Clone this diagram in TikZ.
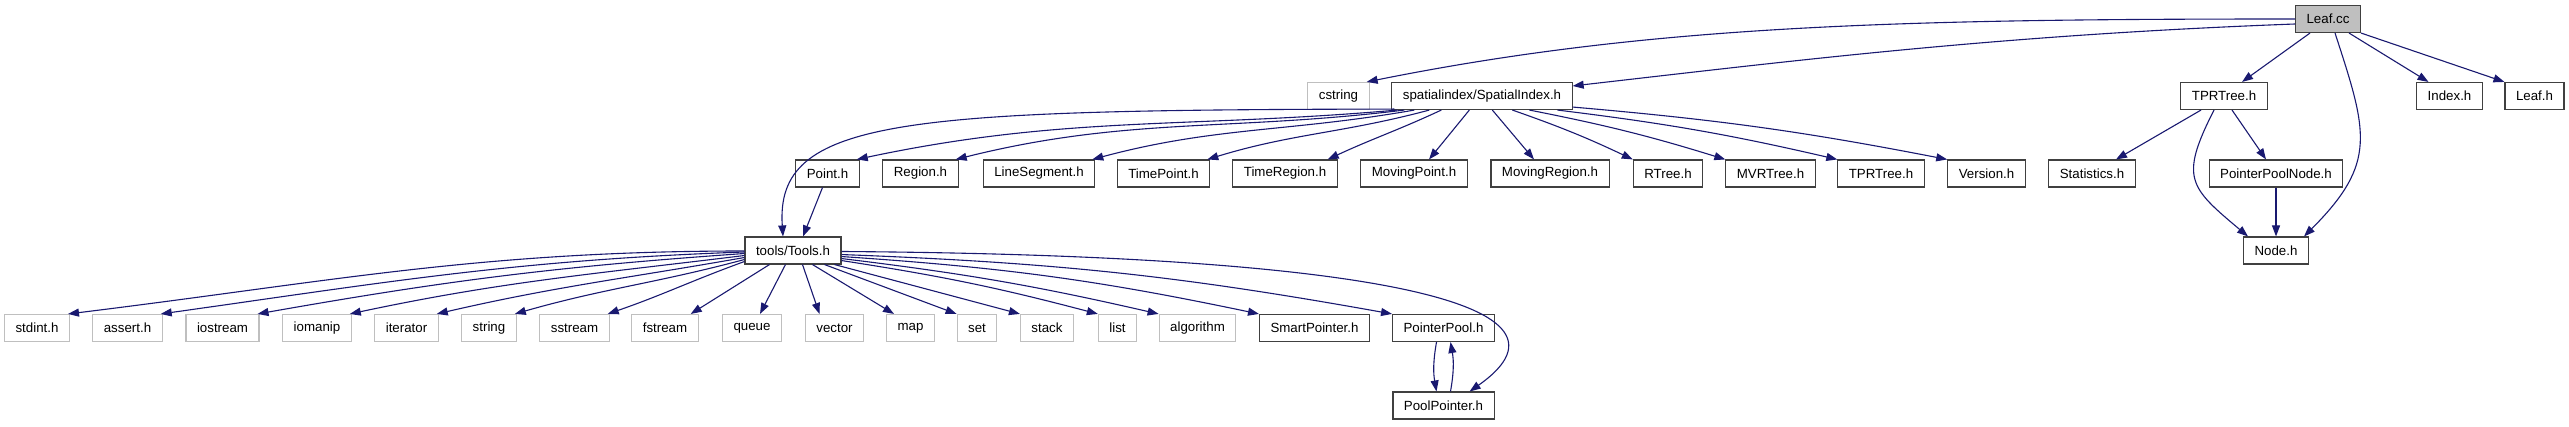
\documentclass[tikz,border=0pt]{standalone}
\usepackage{fontspec}
\setmainfont{Liberation Sans}
\usetikzlibrary{arrows.meta}
\definecolor{navy}{HTML}{191970}
\definecolor{sysgray}{HTML}{BFBFBF}
\definecolor{boxline}{HTML}{404040}
\tikzset{
  box/.style={draw=boxline, line width=1.1pt, fill=white, inner xsep=11pt, inner ysep=0pt,
    minimum height=27pt, font=\fontsize{13.3}{15}\selectfont},
  sysbox/.style={box, draw=sysgray},
  edge/.style={draw=navy, line width=1.1pt, -{Triangle[length=11pt,width=8pt]}}
}
\begin{document}
\begin{tikzpicture}[x=1pt,y=1pt]
\useasboundingbox (0,0) rectangle (2569,-427);
% row 1
\node[box, fill=sysgray] (leafcc) at (2328,-19) {Leaf.cc};
% row 2
\node[sysbox] (cstring) at (1338.5,-96) {cstring};
\node[box] (si) at (1482,-96) {spatialindex/SpatialIndex.h};
\node[box] (tprb) at (2224,-96) {TPRTree.h};
\node[box] (index) at (2449.5,-96) {Index.h};
\node[box] (leafh) at (2534.5,-96) {Leaf.h};
% row 3
\node[box] (point) at (827.5,-173.5) {Point.h};
\node[box] (region) at (920.5,-173.5) {Region.h};
\node[box] (lineseg) at (1039,-173.5) {LineSegment.h};
\node[box] (timepoint) at (1163.5,-173.5) {TimePoint.h};
\node[box] (timeregion) at (1285,-173.5) {TimeRegion.h};
\node[box] (movpoint) at (1414,-173.5) {MovingPoint.h};
\node[box] (movregion) at (1550,-173.5) {MovingRegion.h};
\node[box] (rtree) at (1668,-173.5) {RTree.h};
\node[box] (mvrtree) at (1770.5,-173.5) {MVRTree.h};
\node[box] (tpr) at (1881,-173.5) {TPRTree.h};
\node[box] (version) at (1986.5,-173.5) {Version.h};
\node[box] (stats) at (2092,-173.5) {Statistics.h};
\node[box] (ppn) at (2276,-173.5) {PointerPoolNode.h};
% row 4
\node[box] (tools) at (793,-250.5) {tools/Tools.h};
\node[box] (nodeh) at (2276,-250.5) {Node.h};
% row 5
\node[sysbox] (nstdint) at (37,-328) {stdint.h};
\node[sysbox] (nassert) at (127.5,-328) {assert.h};
\node[sysbox] (niostream) at (222.5,-328) {iostream};
\node[sysbox] (niomanip) at (317,-328) {iomanip};
\node[sysbox] (niterator) at (406.5,-328) {iterator};
\node[sysbox] (nstring) at (489,-328) {string};
\node[sysbox] (nsstream) at (574.5,-328) {sstream};
\node[sysbox] (nfstream) at (665,-328) {fstream};
\node[sysbox] (nqueue) at (752,-328) {queue};
\node[sysbox] (nvector) at (834.5,-328) {vector};
\node[sysbox] (nmap) at (910.5,-328) {map};
\node[sysbox] (nset) at (977,-328) {set};
\node[sysbox] (nstack) at (1047,-328) {stack};
\node[sysbox] (nlist) at (1117.5,-328) {list};
\node[sysbox] (nalgorithm) at (1197.5,-328) {algorithm};
\node[box] (smart) at (1314.5,-328) {SmartPointer.h};
\node[box] (pp) at (1443.5,-328) {PointerPool.h};
% row 6
\node[box] (ppt) at (1443.5,-405.5) {PoolPointer.h};

% Leaf.cc edges
\draw[edge] (leafcc.west) .. controls (1900,-19) and (1650,-25) .. ([xshift=-3pt]cstring.north east);
\draw[edge] ([yshift=-5pt]leafcc.west) .. controls (2000,-35) and (1800,-60) .. ([yshift=-4pt]si.north east);
\draw[edge] ([xshift=-18pt]leafcc.south) -- ([xshift=18pt]tprb.north);
\draw[edge] ([xshift=7pt]leafcc.south) to[out=-72,in=45,looseness=1.3] ([xshift=-5pt]nodeh.north east);
\draw[edge] ([xshift=21pt]leafcc.south) -- ([xshift=-21pt]index.north);
\draw[edge] (leafcc.south east) -- (leafh.north west);

% SpatialIndex edges
\draw[edge] ([shift={(3pt,1pt)}]si.south west) .. controls (900,-110) and (775,-118) .. ([xshift=-10pt]tools.north);
\draw[edge] ([shift={(6pt,0pt)}]si.south west) to[out=185,in=12] ([xshift=-3pt]point.north east);
\draw[edge] ([shift={(13pt,0pt)}]si.south west) to[out=187,in=14] ([xshift=-3pt]region.north east);
\draw[edge] ([shift={(23pt,0pt)}]si.south west) to[out=190,in=15] ([xshift=-3pt]lineseg.north east);
\draw[edge] ([shift={(38pt,0pt)}]si.south west) to[out=195,in=17] ([xshift=-3pt]timepoint.north east);
\draw[edge] ([shift={(50pt,0pt)}]si.south west) to[out=205,in=25] ([xshift=-10pt]timeregion.north east);
\draw[edge] ([shift={(78pt,0pt)}]si.south west) -- ([xshift=15pt]movpoint.north);
\draw[edge] ([shift={(101pt,0pt)}]si.south west) -- ([xshift=-16pt]movregion.north);
\draw[edge] ([shift={(121pt,0pt)}]si.south west) to[bend left=3] (rtree.north west);
\draw[edge] ([shift={(138pt,0pt)}]si.south west) to[bend left=3] (mvrtree.north west);
\draw[edge] ([shift={(166pt,0pt)}]si.south west) to[bend left=3] (tpr.north west);
\draw[edge] ([yshift=3pt]si.south east) to[bend left=3] (version.north west);

% TPRTree edges
\draw[edge] ([xshift=-23pt]tprb.south) -- ([xshift=24pt]stats.north);
\draw[edge] ([xshift=8pt]tprb.south) -- ([xshift=-10pt]ppn.north);
\draw[edge] ([xshift=-10pt]tprb.south) to[out=-117,in=140,looseness=1.5] ([xshift=5pt]nodeh.north west);
\draw[edge] (ppn.south) -- (ppn.south |- nodeh.north);

% Point -> Tools
\draw[edge] ([xshift=-5pt]point.south) -- ([xshift=10pt]tools.north);

% Tools edges
\draw[edge] ([yshift=-0.5pt]tools.west) to[out=180,in=7] ([xshift=-2pt]nstdint.north east);
\draw[edge] ([yshift=-1.5pt]tools.west) to[out=182,in=8] ([xshift=-2pt]nassert.north east);
\draw[edge] ([yshift=-3pt]tools.west) to[out=184,in=10] ([xshift=-2pt]niostream.north east);
\draw[edge] ([yshift=-5pt]tools.west) to[out=187,in=12] ([xshift=-2pt]niomanip.north east);
\draw[edge] ([yshift=-7pt]tools.west) to[out=190,in=13] ([xshift=-2pt]niterator.north east);
\draw[edge] ([yshift=-9pt]tools.west) to[out=195,in=16] ([xshift=-2pt]nstring.north east);
\draw[edge] ([yshift=-11pt]tools.west) to[out=200,in=19] ([xshift=-2pt]nsstream.north east);
\draw[edge] ([xshift=25pt]tools.south west) -- ([xshift=-8pt]nfstream.north east);
\draw[edge] ([xshift=41pt]tools.south west) -- ([xshift=8pt]nqueue.north);
\draw[edge] ([xshift=58pt]tools.south west) -- ([xshift=-15pt]nvector.north);
\draw[edge] ([xshift=68pt]tools.south west) -- ([xshift=8pt]nmap.north west);
\draw[edge] ([xshift=80pt]tools.south west) -- (nset.north west);
\draw[edge] ([xshift=90pt]tools.south west) -- (nstack.north west);
\draw[edge] ([yshift=4pt]tools.south east) to[bend left=3] (nlist.north west);
\draw[edge] ([yshift=6pt]tools.south east) to[bend left=3] (nalgorithm.north west);
\draw[edge] ([yshift=8pt]tools.south east) to[bend left=4] (smart.north west);
\draw[edge] ([yshift=10pt]tools.south east) to[bend left=4] (pp.north west);
\draw[edge] ([yshift=-1pt]tools.east) .. controls (1350,-255) and (1600,-300) .. ([xshift=-25pt]ppt.north east);

% PointerPool <-> PoolPointer
\draw[edge] ([xshift=-7pt]pp.south) to[bend right=10] ([xshift=-7pt]ppt.north);
\draw[edge] ([xshift=7pt]ppt.north) to[bend right=10] ([xshift=7pt]pp.south);
\end{tikzpicture}
\end{document}
